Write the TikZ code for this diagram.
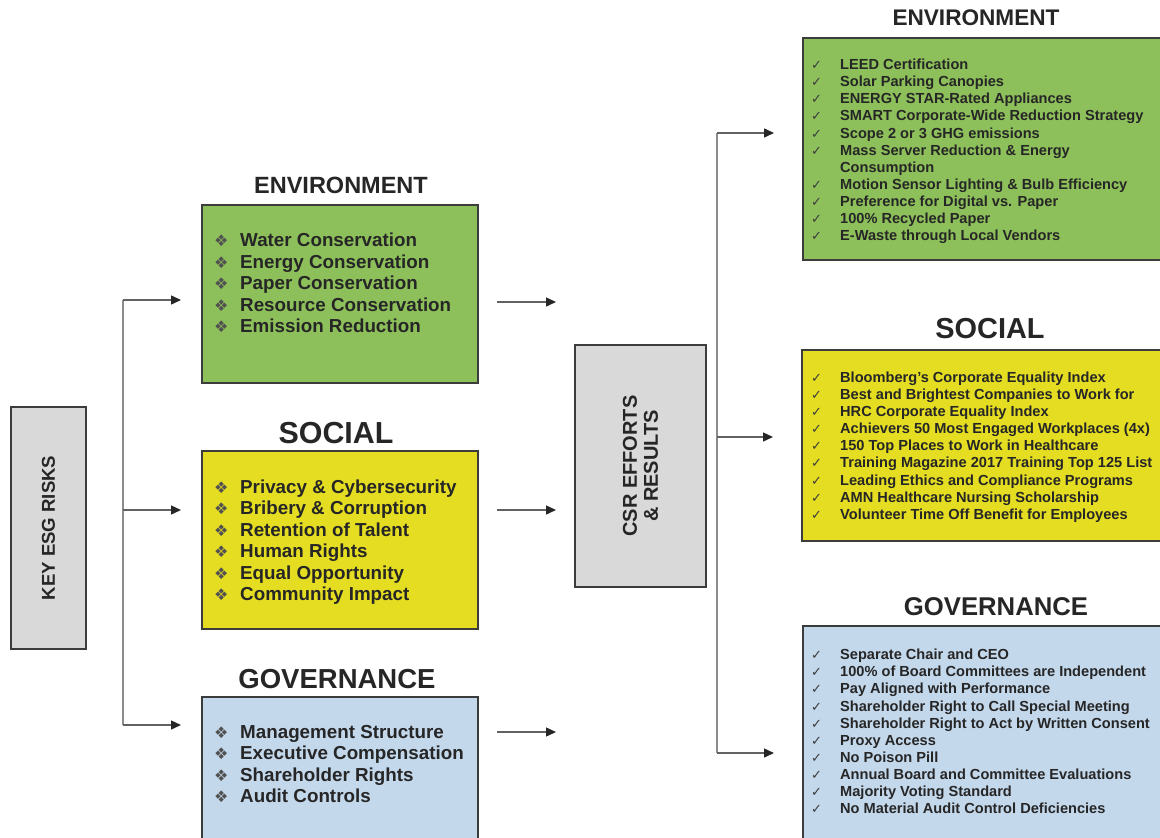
\documentclass[tikz,border=0pt]{standalone}
\usepackage{fontspec}
\setmainfont{Liberation Sans}
\newfontfamily\symfont{DejaVu Sans}
\usepackage{xcolor}
\usetikzlibrary{positioning,arrows.meta,calc}
\definecolor{EnvGreen}{HTML}{8DC05A}
\definecolor{SocYellow}{HTML}{E5DD22}
\definecolor{GovBlue}{HTML}{C4D8EC}
\definecolor{BoxGray}{HTML}{D9D9D9}
\definecolor{EdgeDark}{HTML}{3C3C3C}
\definecolor{TextDark}{HTML}{262626}
\definecolor{LineGray}{HTML}{8C8C8C}

% list markers
\newcommand{\dia}{\makebox[26pt][l]{{\symfont\fontsize{16}{16}\selectfont\color{TextDark!80}❖}}}
\newcommand{\chk}{\makebox[29pt][l]{{\symfont\fontsize{13}{13}\selectfont\color{TextDark!90}✓}}}
\newcommand{\nochk}{\makebox[29pt]{}}

\begin{document}
\begin{tikzpicture}[x=1pt,y=-1pt,
          every node/.style={text=TextDark},
          box/.style={draw=EdgeDark,line width=2pt},
          ttl/.style={font=\bfseries\fontsize{23.5}{26}\selectfont},
          lstL/.style={anchor=west,inner sep=0pt,align=left,
            font=\bfseries\fontsize{18.8}{21.5}\selectfont},
          lstR/.style={anchor=west,inner sep=0pt,align=left,
            font=\bfseries\fontsize{14.6}{17.15}\selectfont},
          spine/.style={LineGray,line width=2pt},
          ar/.style={-{Triangle[length=10pt,width=9pt,color=TextDark]},LineGray!70!black,line width=1.4pt}]
        \useasboundingbox (0,0) rectangle (1160,838);

        % outer boxes
        \node[box,fill=BoxGray,minimum width=75pt,minimum height=242pt] (key) at (48.5,528)
        {\rotatebox{90}{\bfseries\fontsize{18.6}{21}\selectfont KEY ESG RISKS}};
        \node[box,fill=BoxGray,minimum width=131pt,minimum height=242pt] (csr) at (640.5,466)
        {\rotatebox{90}{\parbox{150pt}{\centering\bfseries\fontsize{20}{21}\selectfont
          CSR EFFORTS\\ \& RESULTS}}};

        % risks column
        \node[box,fill=EnvGreen,minimum width=276pt,minimum height=178pt] (envL) at (340,294) {};
        \node[box,fill=SocYellow,minimum width=276pt,minimum height=178pt] (socL) at (340,540) {};
        \node[box,fill=GovBlue,minimum width=276pt,minimum height=142pt] (govL) at (340,768) {};
        \node[ttl] (envLt) at (341,185) {ENVIRONMENT};
        \node[ttl,font=\bfseries\fontsize{30.4}{32}\selectfont] (socLt) at (336,433) {SOCIAL};
        \node[ttl,font=\bfseries\fontsize{27.5}{30}\selectfont] (govLt) at (337,679) {GOVERNANCE};
        \node[lstL] (envLl) at (214,283)
        {\dia Water Conservation\\ \dia Energy Conservation\\ \dia Paper Conservation\\
          \dia Resource Conservation\\ \dia Emission Reduction};
        \node[lstL] (socLl) at (214,542)
        {\dia Privacy \& Cybersecurity\\ \dia Bribery \& Corruption\\ \dia Retention of Talent\\
          \dia Human Rights\\ \dia Equal Opportunity\\ \dia Community Impact};
        \node[lstL] (govLl) at (214,764)
        {\dia Management Structure\\ \dia Executive Compensation\\ \dia Shareholder Rights\\
          \dia Audit Controls};

        % results column
        \node[box,fill=EnvGreen,minimum width=360pt,minimum height=222pt] (envR) at (983,149) {};
        \node[box,fill=SocYellow,minimum width=361pt,minimum height=191pt] (socR) at (982.5,445.5) {};
        \node[box,fill=GovBlue,minimum width=360pt,minimum height=216pt] (govR) at (983,734) {};
        \node[ttl,font=\bfseries\fontsize{22.6}{25}\selectfont] (envRt) at (976,18) {ENVIRONMENT};
        \node[ttl,font=\bfseries\fontsize{28.9}{31}\selectfont] (socRt) at (990,329) {SOCIAL};
        \node[ttl,font=\bfseries\fontsize{25.7}{28}\selectfont] (govRt) at (996,607) {GOVERNANCE};
        \node[lstR] (envRl) at (811,151.5)
        {\chk LEED Certification\\ \chk Solar Parking Canopies\\ \chk ENERGY STAR-Rated Appliances\\
          \chk SMART Corporate-Wide Reduction Strategy\\ \chk Scope 2 or 3 GHG emissions\\
          \chk Mass Server Reduction \& Energy\\ \nochk Consumption\\
          \chk Motion Sensor Lighting \& Bulb Efficiency\\ \chk Preference for Digital vs. Paper\\
          \chk 100\% Recycled Paper\\ \chk E-Waste through Local Vendors};
        \node[lstR] (socRl) at (811,447)
        {\chk Bloomberg’s Corporate Equality Index\\ \chk Best and Brightest Companies to Work for\\
          \chk HRC Corporate Equality Index\\ \chk Achievers 50 Most Engaged Workplaces (4x)\\
          \chk 150 Top Places to Work in Healthcare\\ \chk Training Magazine 2017 Training Top 125 List\\
          \chk Leading Ethics and Compliance Programs\\ \chk AMN Healthcare Nursing Scholarship\\
          \chk Volunteer Time Off Benefit for Employees};
        \node[lstR] (govRl) at (811,731.5)
        {\chk Separate Chair and CEO\\ \chk 100\% of Board Committees are Independent\\
          \chk Pay Aligned with Performance\\ \chk Shareholder Right to Call Special Meeting\\
          \chk Shareholder Right to Act by Written Consent\\ \chk Proxy Access\\ \chk No Poison Pill\\
          \chk Annual Board and Committee Evaluations\\ \chk Majority Voting Standard\\
          \chk No Material Audit Control Deficiencies};

        % connectors
        \coordinate (sL1) at (123,300); \coordinate (sL2) at (123,510); \coordinate (sL3) at (123,725);
        \coordinate (sR1) at (717,133); \coordinate (sR2) at (717,437); \coordinate (sR3) at (717,753);
        \coordinate (m1) at (0,302); \coordinate (m2) at (0,510); \coordinate (m3) at (0,732);
        \draw[spine] (sL1) -- (sL3); \draw[spine] (sR1) -- (sR3);
        \draw[ar,shorten >=20pt] (sL1) -- (sL1 -| envL.west);
        \draw[ar,shorten >=20pt] (sL2) -- (sL2 -| socL.west);
        \draw[ar,shorten >=20pt] (sL3) -- (sL3 -| govL.west);
        \draw[ar,shorten <=18pt,shorten >=18pt] (envL.east |- m1) -- (csr.west |- m1);
        \draw[ar,shorten <=18pt,shorten >=18pt] (socL.east |- m2) -- (csr.west |- m2);
        \draw[ar,shorten <=18pt,shorten >=18pt] (govL.east |- m3) -- (csr.west |- m3);
        \draw[ar,shorten >=28pt] (sR1) -- (sR1 -| envR.west);
        \draw[ar,shorten >=28pt] (sR2) -- (sR2 -| socR.west);
        \draw[ar,shorten >=28pt] (sR3) -- (sR3 -| govR.west);
      \end{tikzpicture}
\end{document}
